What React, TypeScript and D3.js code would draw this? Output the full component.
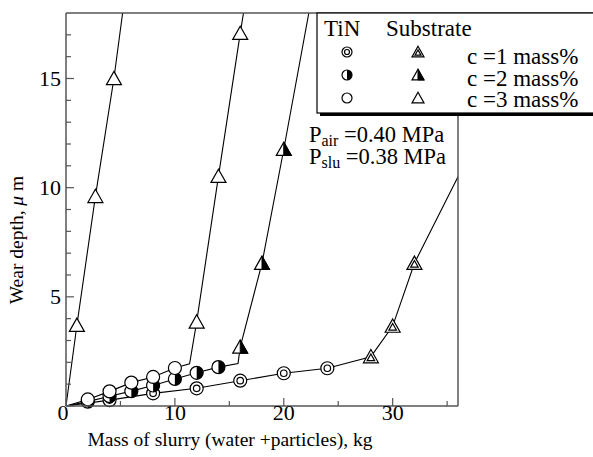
import React from "react";
import * as d3 from "d3";

// ---- data ----
const xMajorTicks = [0, 10, 20, 30];
const xMinorTicks = [5, 15, 25, 35];
const yMajorTicks = [0, 5, 10, 15];
const yMinorTicks = [1, 2, 3, 4, 6, 7, 8, 9, 11, 12, 13, 14, 16, 17];

// c = 1 mass%
const c1Tin = [[4, 0.27], [8, 0.58], [12, 0.81], [16, 1.16], [20, 1.5], [24, 1.73]];
const c1Sub = [[28, 2.26], [30, 3.66], [32, 6.54]];
const c1Exit = [[36, 10.5]];
// c = 2 mass%
const c2Tin = [[2, 0.2], [4, 0.45], [6, 0.68], [8, 0.94], [10, 1.24], [12, 1.52], [14, 1.78]];
const c2Kink = [[15.8, 1.95]];
const c2Sub = [[16, 2.7], [18, 6.54], [20, 11.76]];
const c2Exit = [[22.3, 18]];
// c = 3 mass%
const c3Tin = [[2, 0.3], [4, 0.67], [6, 1.07], [8, 1.33], [10, 1.74]];
const c3Kink = [[11.35, 1.93]];
const c3Sub = [[12, 3.85], [14, 10.52], [16, 17.07]];
const c3Exit = [[16.3, 18]];
// c = 3 mass%, substrate only
const c3Bare = [[1.0, 3.7], [2.7, 9.6], [4.4, 15.0]];
const c3BareExit = [[5.2, 18]];

const origin = [[0, 0]];

const legendRows = ["c =1 mass%", "c =2 mass%", "c =3 mass%"];

const W = 593, H = 457;
const L = 66, R = 458, T = 13, B = 406;
const FONT = "Liberation Serif, Times New Roman, Times, serif";

const x = d3.scaleLinear().domain([0, 36]).range([L, R]);
const y = d3.scaleLinear().domain([0, 18]).range([B, T]);
const line = d3.line<number[]>().x(d => x(d[0])).y(d => y(d[1]));

function Circle({ cx, cy, r, kind }: { cx: number; cy: number; r: number; kind: number }) {
  if (kind === 1) {
    return (
      <g>
        <circle cx={cx} cy={cy} r={r} fill="#fff" stroke="#000" strokeWidth={1.2} />
        <circle cx={cx} cy={cy} r={r * 0.5} fill="#fff" stroke="#000" strokeWidth={1.2} />
      </g>
    );
  }
  if (kind === 2) {
    const arc = `M${cx},${cy - r} A${r},${r} 0 0 1 ${cx},${cy + r} Z`;
    return (
      <g>
        <circle cx={cx} cy={cy} r={r} fill="#fff" stroke="#000" strokeWidth={1.2} />
        <path d={arc} fill="#000" />
      </g>
    );
  }
  return <circle cx={cx} cy={cy} r={r} fill="#fff" stroke="#000" strokeWidth={1.2} />;
}

function Tri({ cx, cy, s, kind }: { cx: number; cy: number; s: number; kind: number }) {
  const hw = s, top = cy - s * 0.95, bot = cy + s * 0.82;
  const outer = `M${cx},${top} L${cx + hw},${bot} L${cx - hw},${bot} Z`;
  if (kind === 1) {
    const k = 0.5;
    const ctop = cy - s * 0.95 * k + s * 0.12, cbot = cy + s * 0.82 * k + s * 0.12;
    const inner = `M${cx},${ctop} L${cx + hw * k},${cbot} L${cx - hw * k},${cbot} Z`;
    return (
      <g>
        <path d={outer} fill="#fff" stroke="#000" strokeWidth={1.2} />
        <path d={inner} fill="#fff" stroke="#000" strokeWidth={1.2} />
      </g>
    );
  }
  if (kind === 2) {
    const half = `M${cx},${top} L${cx + hw},${bot} L${cx},${bot} Z`;
    return (
      <g>
        <path d={outer} fill="#fff" stroke="#000" strokeWidth={1.2} />
        <path d={half} fill="#000" stroke="#000" strokeWidth={1} />
      </g>
    );
  }
  return <path d={outer} fill="#fff" stroke="#000" strokeWidth={1.2} />;
}

export default function App() {
  const paths = [
    [...origin, ...c1Tin, ...c1Sub, ...c1Exit],
    [...origin, ...c2Tin, ...c2Kink, ...c2Sub, ...c2Exit],
    [...origin, ...c3Tin, ...c3Kink, ...c3Sub, ...c3Exit],
    [...origin, ...c3Bare, ...c3BareExit],
  ];
  const axisColor = "#555";
  const legendX = 317, legendY = T, legendB = 113;
  const tinX = 347, subX = 418;
  const rowY = [52, 75, 98];
  const textBase = [64, 86, 107];
  const MR = 6.5, TS = 7.5;

  return (
    <svg width={W} height={H} style={{ position: "absolute", left: 0, top: 0, background: "#fff", fontFamily: FONT }}>
      <rect x={0} y={0} width={W} height={H} fill="#fff" />
      <defs>
        <clipPath id="plot"><rect x={L} y={T} width={R - L} height={B - T} /></clipPath>
      </defs>
      <g clipPath="url(#plot)">
        {paths.map((p, i) => (
          <path key={i} d={line(p as number[][]) || ""} fill="none" stroke="#000" strokeWidth={1.1} />
        ))}
      </g>
      {/* markers */}
      {c1Tin.map((d, i) => <Circle key={"a" + i} cx={x(d[0])} cy={y(d[1])} r={MR} kind={1} />)}
      {c1Sub.map((d, i) => <Tri key={"b" + i} cx={x(d[0])} cy={y(d[1])} s={TS} kind={1} />)}
      {c2Tin.map((d, i) => <Circle key={"c" + i} cx={x(d[0])} cy={y(d[1])} r={MR} kind={2} />)}
      {c2Sub.map((d, i) => <Tri key={"d" + i} cx={x(d[0])} cy={y(d[1])} s={TS} kind={2} />)}
      {c3Tin.map((d, i) => <Circle key={"e" + i} cx={x(d[0])} cy={y(d[1])} r={MR} kind={3} />)}
      {c3Sub.map((d, i) => <Tri key={"f" + i} cx={x(d[0])} cy={y(d[1])} s={TS} kind={3} />)}
      {c3Bare.map((d, i) => <Tri key={"g" + i} cx={x(d[0])} cy={y(d[1])} s={TS} kind={3} />)}

      {/* frame */}
      <g stroke={axisColor} strokeWidth={1.5} fill="none">
        <line x1={L} y1={T} x2={L} y2={B} />
        <line x1={L} y1={B} x2={R} y2={B} />
        <line x1={R} y1={T} x2={R} y2={B} />
        <line x1={L} y1={T} x2={W} y2={T} />
      </g>
      {/* ticks */}
      <g stroke={axisColor} strokeWidth={1.2}>
        {xMajorTicks.map(t => <line key={"xm" + t} x1={x(t)} x2={x(t)} y1={B} y2={B - 8} />)}
        {xMinorTicks.map(t => <line key={"xn" + t} x1={x(t)} x2={x(t)} y1={B} y2={B - 5} />)}
        {yMajorTicks.map(t => <line key={"ym" + t} x1={L} x2={L + 8} y1={y(t)} y2={y(t)} />)}
        {yMinorTicks.map(t => <line key={"yn" + t} x1={L} x2={L + 5} y1={y(t)} y2={y(t)} />)}
      </g>
      <g fontSize={22} fill="#000">
        {xMajorTicks.map(t => (
          <text key={"xl" + t} x={t === 0 ? x(t) - 3 : x(t)} y={B + 14} textAnchor="middle">{t}</text>
        ))}
        {yMajorTicks.filter(t => t > 0).map(t => (
          <text key={"yl" + t} x={L - 5} y={y(t) + 7} textAnchor="end">{t}</text>
        ))}
        <text x={230} y={446} textAnchor="middle" fontSize={19.5}>Mass of slurry (water +particles),  kg</text>
        <text transform={`translate(23,${240}) rotate(-90)`} textAnchor="middle" fontSize={19.5}>
          Wear depth,  <tspan fontStyle="italic">μ</tspan> m
        </text>
      </g>
      <g fontSize={22.5} fill="#000">
        <text x={309} y={142}>P<tspan fontSize={16} dy={4}>air</tspan><tspan dy={-4}> =0.40 MPa</tspan></text>
        <text x={309} y={164}>P<tspan fontSize={16} dy={4}>slu</tspan><tspan dy={-4}> =0.38 MPa</tspan></text>
      </g>

      {/* legend */}
      <rect x={legendX + 3} y={legendY + 3} width={W} height={legendB - legendY} fill="#000" />
      <rect x={legendX} y={legendY} width={W} height={legendB - legendY} fill="#fff" stroke="#000" strokeWidth={1.2} />
      <g fontSize={23} fill="#000">
        <text x={324} y={36}>TiN</text>
        <text x={386} y={36}>Substrate</text>
        {legendRows.map((s, i) => <text key={s} x={467} y={textBase[i]}>{s}</text>)}
      </g>
      {rowY.map((ry, i) => <Circle key={"lc" + i} cx={tinX} cy={ry} r={5} kind={i + 1} />)}
      {rowY.map((ry, i) => <Tri key={"lt" + i} cx={subX} cy={ry} s={6} kind={i + 1} />)}
    </svg>
  );
}
